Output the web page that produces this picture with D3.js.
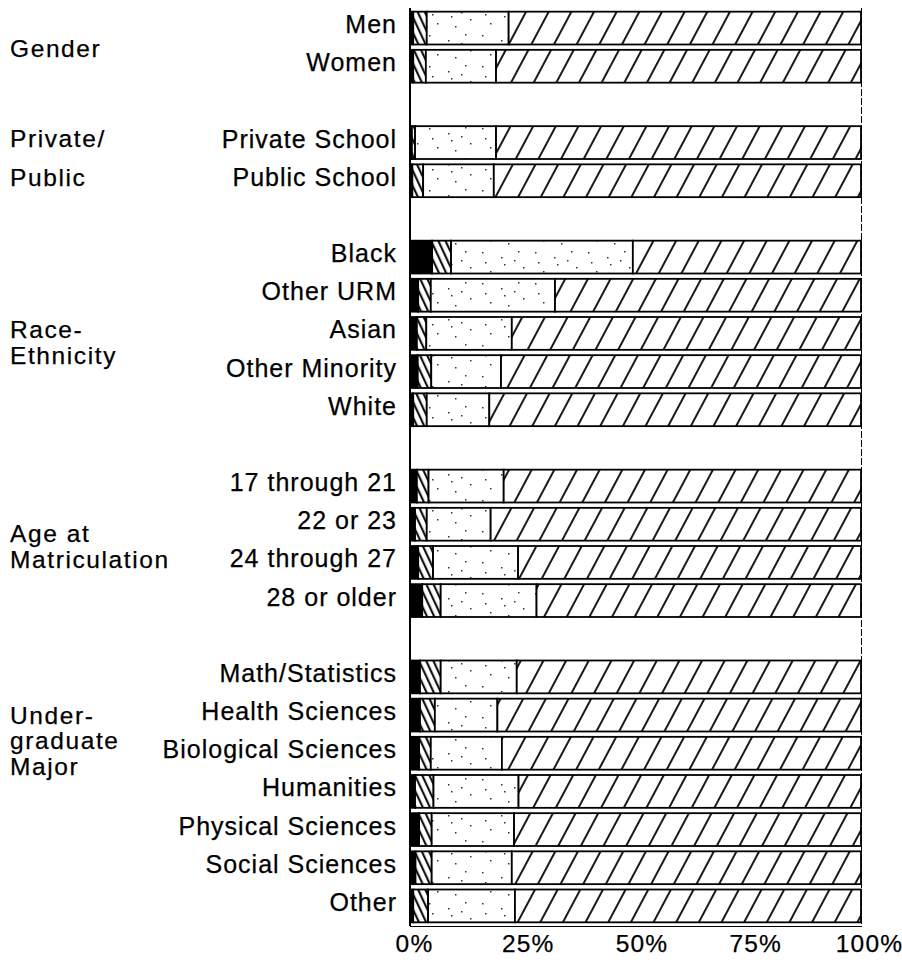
<!DOCTYPE html>
<html><head><meta charset="utf-8">
<script src="https://cdn.jsdelivr.net/npm/d3@7"></script>
<style>body{margin:0;background:#fff} svg{display:block}</style>
</head><body><svg id="c" width="902" height="964"></svg>
<script>
const categories = ["Men","Women","Private School","Public School","Black","Other URM","Asian","Other Minority","White","17 through 21","22 or 23","24 through 27","28 or older","Math/Statistics","Health Sciences","Biological Sciences","Humanities","Physical Sciences","Social Sciences","Other"];
const categoryGroup = [0,0,1,1,2,2,2,2,2,3,3,3,3,4,4,4,4,4,4,4];
const groupLabels = [["Gender"],["Private/","Public"],["Race-","Ethnicity"],["Age at","Matriculation"],["Under-","graduate","Major"]];
const seriesKeys = ["solid","backHatch","stipple","forwardHatch"];
const solidPct = [0.5,0.5,0.2,0.3,4.7,1.6,1.3,1.5,0.5,1.3,0.9,1.6,2.5,2.0,2.0,1.8,0.9,1.8,1.0,0.5];
const backHatchPct = [3.0,2.8,0.7,2.4,4.2,2.8,2.1,3.0,3.0,2.6,2.6,3.3,4.1,4.6,3.3,2.6,4.1,2.8,3.6,3.3];
const stipplePct = [18.2,15.6,18.0,15.7,40.4,27.6,19.0,15.5,13.9,16.7,14.2,18.9,21.3,16.9,13.9,15.8,18.9,18.3,17.8,19.3];
const forwardHatchPct = [78.3,81.1,81.1,81.6,50.7,68.0,77.6,80.0,82.6,79.4,82.3,76.2,72.1,76.5,80.8,79.8,76.1,77.1,77.6,76.9];
const tickValues = [0,25,50,75,100];
const tickLabels = ["0%","25%","50%","75%","100%"];

const FONT = "'Liberation Sans', Arial, Helvetica, sans-serif";
const svg = d3.select("#c");
const defs = svg.append("defs");

// patterns
const fh = defs.append("pattern").attr("id","fh").attr("patternUnits","userSpaceOnUse")
  .attr("width",20).attr("height",20).attr("patternTransform","rotate(28)");
fh.append("rect").attr("width",20).attr("height",20).attr("fill","#fff");
fh.append("line").attr("x1",10).attr("x2",10).attr("y1",-2).attr("y2",22).attr("stroke","#000").attr("stroke-width",1.8);
const bh = defs.append("pattern").attr("id","bh").attr("patternUnits","userSpaceOnUse")
  .attr("width",6.5).attr("height",20).attr("patternTransform","rotate(-25)");
bh.append("rect").attr("width",6.5).attr("height",20).attr("fill","#fff");
bh.append("line").attr("x1",3).attr("x2",3).attr("y1",-2).attr("y2",22).attr("stroke","#000").attr("stroke-width",2);
const st = defs.append("pattern").attr("id","st").attr("patternUnits","userSpaceOnUse")
  .attr("width",53).attr("height",31);
st.append("rect").attr("width",53).attr("height",31).attr("fill","#fff");
[[5,4],[24,9],[41,3],[46,19],[13,23],[31,26],[27,16],[8,14],[37,12]].forEach(p=>{
  st.append("rect").attr("x",p[0]).attr("y",p[1]).attr("width",1.5).attr("height",1.5).attr("fill","#333");
});

// slots with spacer rows between groups
const slots = [];
categories.forEach((c,i)=>{
  if(i>0 && categoryGroup[i]!==categoryGroup[i-1]) slots.push("__gap"+categoryGroup[i]);
  slots.push(c);
});
const y = d3.scaleBand().domain(slots).range([9,925]).paddingInner(0.14).paddingOuter(0.07);
const x = d3.scaleLinear().domain([0,100]).range([411,861]);
const xLabel = d3.scaleLinear().domain([0,100]).range([414,869]);

const table = categories.map((c,i)=>({category:c, solid:solidPct[i], backHatch:backHatchPct[i], stipple:stipplePct[i], forwardHatch:forwardHatchPct[i]}));
const stack = d3.stack().keys(seriesKeys)(table);
const fills = {solid:"#000", backHatch:"url(#bh)", stipple:"url(#st)", forwardHatch:"url(#fh)"};

svg.append("g").selectAll("g").data(stack).join("g")
  .attr("fill", d=>fills[d.key])
  .selectAll("rect").data(d=>d).join("rect")
  .attr("x", d=>x(d[0])).attr("width", d=>Math.max(0,x(d[1])-x(d[0])))
  .attr("y", d=>y(d.data.category)).attr("height", y.bandwidth())
  .attr("stroke","#000").attr("stroke-width",1.8);

// frame lines
svg.append("line").attr("x1",410).attr("x2",410).attr("y1",8).attr("y2",926).attr("stroke","#000").attr("stroke-width",2);
svg.append("line").attr("x1",861.5).attr("x2",861.5).attr("y1",8).attr("y2",926).attr("stroke","#000").attr("stroke-width",1).attr("stroke-dasharray","7,2");
svg.append("line").attr("x1",410).attr("x2",862).attr("y1",926.5).attr("y2",926.5).attr("stroke","#000").attr("stroke-width",1.2);

const textStyle = (sel, size, ls) => sel.attr("font-family",FONT).attr("font-size",size)
  .attr("letter-spacing",ls).attr("fill","#000").attr("stroke","#000").attr("stroke-width",0.25);

// row labels
textStyle(svg.append("g").selectAll("text").data(categories).join("text")
  .attr("x",397).attr("y",c=>y(c)+y.bandwidth()/2-4)
  .attr("dy","0.36em").attr("text-anchor","end")
  .text(c=>c), 25, 1);

// group labels
const groupLineSpacing = [0,38.17,25.5,25.5,25.5];
const groupShift = [1,-4,9,3,-51];
groupLabels.forEach((lines,g)=>{
  const rows = categories.filter((c,i)=>categoryGroup[i]===g);
  const center = d3.mean(rows, c=>y(c)+y.bandwidth()/2) + groupShift[g];
  const sp = groupLineSpacing[g];
  lines.forEach((t,k)=>{
    textStyle(svg.append("text").attr("x",10).attr("y", center + (k-(lines.length-1)/2)*sp)
      .attr("dy","0.36em").text(t), 24.5, 1.6);
  });
});

// x axis tick labels
const ax = svg.append("g").attr("transform","translate(0,926)")
  .call(d3.axisBottom(xLabel).tickValues(tickValues).tickFormat((d,i)=>tickLabels[i]).tickSize(0).tickPadding(9));
ax.select(".domain").remove();
textStyle(ax.selectAll("text"), 24.5, 1.2);
</script></body></html>
